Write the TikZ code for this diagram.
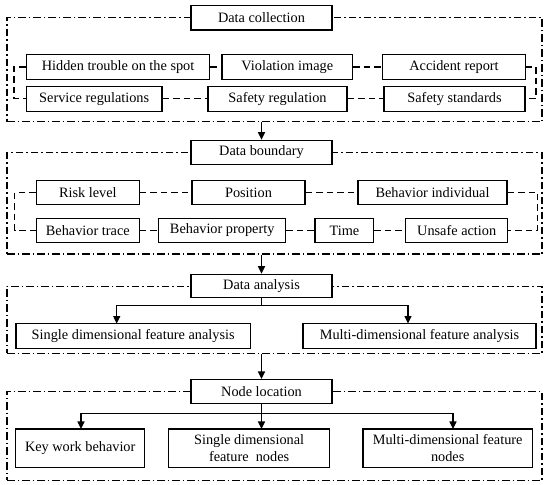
\documentclass[tikz,border=0pt]{standalone}
\usepackage{fontspec}
\setmainfont{Liberation Serif}
\usetikzlibrary{arrows.meta}
\tikzset{
  box/.style={draw, line width=1.1pt, fill=white, inner sep=0pt, align=center,
    font=\fontsize{14.3}{17.5}\selectfont},
  title/.style={box, minimum width=141pt},
  framebox/.style={draw, line width=1.1pt, inner sep=0pt, minimum width=535pt,
    dash pattern=on 7.5pt off 3pt on 1.5pt off 3pt},
  conn/.style={line width=1.1pt, dash pattern=on 6.5pt off 4pt},
  link/.style={line width=1.1pt},
  arr/.style={line width=1.1pt, -{Triangle[length=7.5pt,width=7pt]}},
}
\begin{document}
\begin{tikzpicture}[x=1pt,y=-1pt]
\useasboundingbox (0,0) rectangle (550,485);
% ---------- section 1
\node[framebox, minimum height=104pt] (f1) at (274.5,69.6) {};
\node[title, minimum height=24.7pt] (t1) at (261.5,17.6) {Data collection};
\node[box, minimum width=183.4pt, minimum height=24.7pt] (a1) at (118.1,67) {Hidden trouble on the spot};
\node[box, minimum width=130.6pt, minimum height=24.7pt] (a2) at (287.3,67) {Violation image};
\node[box, minimum width=142.8pt, minimum height=24.7pt] (a3) at (454,67) {Accident report};
\node[box, minimum width=135.6pt, minimum height=24.7pt] (b1) at (94.2,98.7) {Service regulations};
\node[box, minimum width=139pt, minimum height=24.7pt] (b2) at (277.5,98.7) {Safety regulation};
\node[box, minimum width=141pt, minimum height=24.7pt] (b3) at (454.5,98.7) {Safety standards};
\coordinate (L1) at (14,83);
\coordinate (R1) at (536,83);
\draw[conn] (a1) -- (a2);
\draw[conn] (a2) -- (a3);
\draw[conn] (b1) -- (b2);
\draw[conn] (b2) -- (b3);
\draw[conn] (a1.west) -| (L1) |- (b1.west);
\draw[conn] (a3.east) -| (R1) |- (b3.east);
% ---------- section 2
\node[framebox, minimum height=101.1pt] (f2) at (274.5,203.45) {};
\node[title, minimum height=24.5pt] (t2) at (261.5,152.5) {Data boundary};
\draw[arr] (f1.south -| t1.center) -- (t2);
\node[box, minimum width=103pt, minimum height=24.4pt] (r1) at (87.8,192.6) {Risk level};
\node[box, minimum width=113pt, minimum height=24.4pt] (r2) at (248.5,192.6) {Position};
\node[box, minimum width=149pt, minimum height=24.4pt] (r3) at (432.5,192.6) {Behavior individual};
\node[box, minimum width=103pt, minimum height=24.4pt] (s1) at (87.8,230.4) {Behavior trace};
\node[box, minimum width=127pt, minimum height=24.4pt] (s2) at (222.2,230.4) {Behavior property};
\node[box, minimum width=58.8pt, minimum height=24.4pt] (s3) at (344.4,230.4) {Time};
\node[box, minimum width=102.3pt, minimum height=24.4pt] (s4) at (456.7,230.4) {Unsafe action};
\coordinate (L2) at (14.8,211.5);
\coordinate (R2) at (537.7,211.5);
\draw[conn] (r1) -- (r2);
\draw[conn] (r2) -- (r3);
\draw[conn] (s1) -- (s2);
\draw[conn] (s2) -- (s3);
\draw[conn] (s3) -- (s4);
\draw[conn] (r1.west) -| (L2) |- (s1.west);
\draw[conn] (r3.east) -| (R2) |- (s4.east);
% ---------- section 3
\node[framebox, minimum height=67pt] (f3) at (274.5,319.9) {};
\node[title, minimum height=23.5pt] (t3) at (261.5,286) {Data analysis};
\draw[arr] (f2.south -| t2.center) -- (t3);
\node[box, minimum width=234.5pt, minimum height=24.7pt] (c1) at (133.2,335.9) {Single dimensional feature analysis};
\node[box, minimum width=233pt, minimum height=24.7pt] (c2) at (419.5,335.9) {Multi-dimensional feature analysis};
\coordinate (br3) at (261.5,305.8);
\coordinate (c1in) at (116.7,323.55);
\coordinate (c2in) at (408,323.55);
\draw[link] (t3.south) -- (br3);
\draw[arr] (br3) -| (c1in);
\draw[arr] (br3) -| (c2in);
% ---------- section 4
\node[framebox, minimum height=88.9pt] (f4) at (274.5,435.75) {};
\node[title, minimum height=24pt] (t4) at (261.5,391.5) {Node location};
\draw[arr] (f3.south -| t3.center) -- (t4);
\node[box, minimum width=128.7pt, minimum height=38.1pt] (d1) at (80.2,448) {Key work behavior};
\node[box, minimum width=161.2pt, minimum height=38.1pt] (d2) at (249.1,448) {Single dimensional\\feature\ \ nodes};
\node[box, minimum width=169.4pt, minimum height=38.1pt] (d3) at (447.7,448) {Multi-dimensional feature\\nodes};
\coordinate (br4) at (261.5,413.2);
\coordinate (d1in) at (81,428.95);
\coordinate (d2in) at (261.5,428.95);
\coordinate (d3in) at (453,428.95);
\draw[link] (t4.south) -- (br4);
\draw[arr] (br4) -| (d1in);
\draw[arr] (br4) -- (d2in);
\draw[arr] (br4) -| (d3in);
\end{tikzpicture}
\end{document}
